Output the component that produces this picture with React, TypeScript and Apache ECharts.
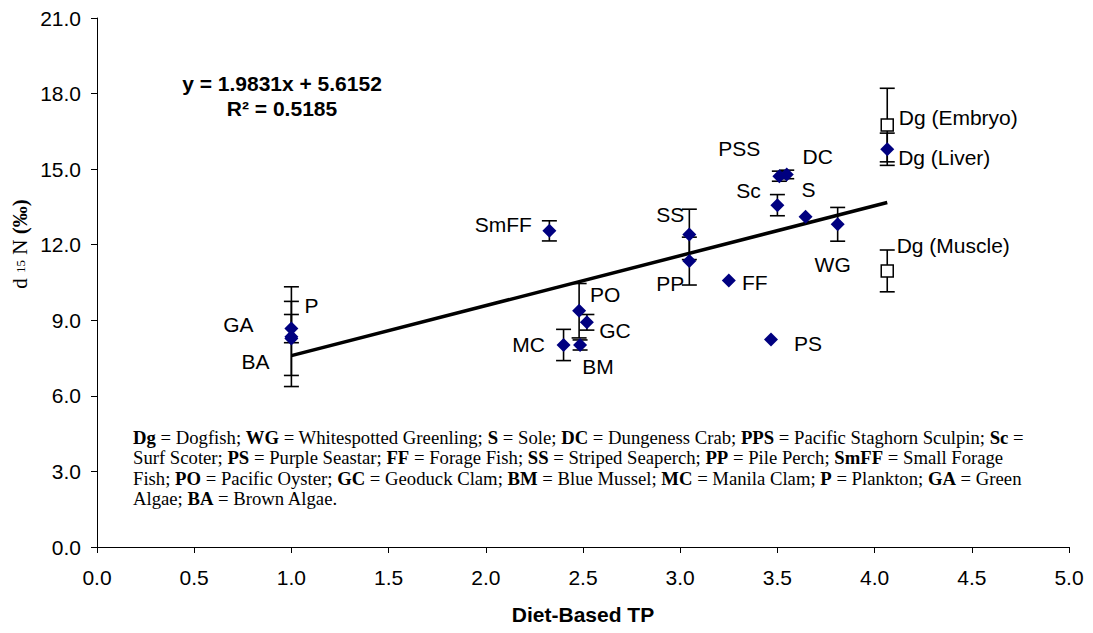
import React, { useEffect, useRef } from "react";
import * as echarts from "echarts";

// Field samples plotted with filled diamonds
const speciesNames = ["GA", "BA", "P", "PO", "GC", "BM", "MC", "SmFF", "SS", "PP", "FF", "PS", "Sc", "PSS", "DC", "S", "WG", "Dg (Liver)"];
const speciesTP = [1.0, 1.0, 1.0, 2.48, 2.52, 2.485, 2.4, 2.327, 3.047, 3.047, 3.25, 3.467, 3.5, 3.51, 3.548, 3.645, 3.81, 4.065];
const speciesD15N = [8.67, 8.28, 8.35, 9.38, 8.92, 8.02, 8.02, 12.55, 12.41, 11.35, 10.58, 8.24, 13.57, 14.72, 14.79, 13.11, 12.81, 15.79];
const speciesSd = [0.56, 1.47, 1.98, 1.08, 0.31, 0.2, 0.62, 0.4, 1.0, 0.95, 0, 0, 0.42, 0.2, 0.17, 0, 0.67, 0.64];

// Dogfish tissues plotted with open squares
const dogfishNames = ["Dg (Embryo)", "Dg (Muscle)"];
const dogfishTP = [4.065, 4.065];
const dogfishD15N = [16.75, 10.96];
const dogfishSd = [1.46, 0.83];

// Linear fit through the diamond samples
const slope = 1.9831;
const intercept = 5.6152;
const rSquared = 0.5185;

// Axis ranges
const xRange = [0, 5, 0.5];
const yRange = [0, 21, 3];

// Key printed inside the plot
const keyLines = [
  "{b|Dg} = Dogfish; {b|WG} = Whitespotted Greenling; {b|S} = Sole; {b|DC} = Dungeness Crab; {b|PPS} = Pacific Staghorn Sculpin; {b|Sc} =",
  "Surf Scoter; {b|PS} = Purple Seastar; {b|FF} = Forage Fish; {b|SS} = Striped Seaperch; {b|PP} = Pile Perch; {b|SmFF} = Small Forage",
  "Fish; {b|PO} = Pacific Oyster; {b|GC} = Geoduck Clam; {b|BM} = Blue Mussel; {b|MC} = Manila Clam; {b|P} = Plankton; {b|GA} = Green",
  "Algae; {b|BA} = Brown Algae.",
];

// Where each point's name sits relative to its marker (px)
const labelOffsets: Record<string, [number, number]> = {
  GA: [-53, -4],
  BA: [-36, 23],
  P: [20, -31],
  PO: [26, -16],
  GC: [28, 8],
  MC: [-35, 0],
  BM: [18, 22],
  SmFF: [-46, -6],
  SS: [-19, -20],
  PP: [-19, 22],
  FF: [26, 2],
  PS: [37, 4],
  Sc: [-29, -15],
  PSS: [-40, -28],
  DC: [31, -18],
  S: [3, -27],
  WG: [-5, 40],
  "Dg (Embryo)": [71, -8],
  "Dg (Liver)": [57, 8],
  "Dg (Muscle)": [66, -25],
};

const SANS = "'Liberation Sans', Arial, sans-serif";
const SERIF = "'Liberation Serif', 'Times New Roman', serif";
const KEY_SIZE = 18.7;
const KEY_LINE = 20.4;

function pointLabel(name: string) {
  const off = labelOffsets[name] || [0, 0];
  return {
    show: true,
    position: "inside" as const,
    formatter: name,
    offset: off,
    color: "#000",
    opacity: 1,
    fontFamily: SANS,
    fontSize: 21,
    align: "center" as const,
    verticalAlign: "middle" as const,
  };
}

export default function App() {
  const ref = useRef<HTMLDivElement>(null);

  useEffect(() => {
    if (!ref.current) return;
    const chart = echarts.init(ref.current, undefined, { renderer: "svg" });

    const speciesData = speciesNames.map((name, i) => ({
      name,
      value: [speciesTP[i], speciesD15N[i]],
      label: pointLabel(name),
    }));
    const dogfishData = dogfishNames.map((name, i) => ({
      name,
      value: [dogfishTP[i], dogfishD15N[i]],
      label: pointLabel(name),
    }));

    const errorData: number[][] = [];
    speciesNames.forEach((_, i) => {
      if (speciesSd[i] > 0) errorData.push([speciesTP[i], speciesD15N[i], speciesSd[i]]);
    });
    dogfishNames.forEach((_, i) => {
      if (dogfishSd[i] > 0) errorData.push([dogfishTP[i], dogfishD15N[i], dogfishSd[i]]);
    });

    const fitX0 = Math.min(...speciesTP);
    const fitX1 = Math.max(...speciesTP);
    const fitData = [
      [fitX0, slope * fitX0 + intercept],
      [fitX1, slope * fitX1 + intercept],
    ];

    const keyText = keyLines.join("\n");

    chart.setOption({
      animation: false,
      backgroundColor: "#fff",
      grid: { left: 97, right: 24, top: 18, bottom: 86 },
      xAxis: {
        type: "value",
        min: xRange[0],
        max: xRange[1],
        interval: xRange[2],
        name: "Diet-Based TP",
        nameLocation: "middle",
        nameGap: 57,
        nameTextStyle: { fontFamily: SANS, fontSize: 21, fontWeight: "bold", color: "#000" },
        axisLine: { onZero: false, lineStyle: { color: "#000", width: 1 } },
        axisTick: { show: true, inside: false, length: 6, lineStyle: { color: "#000" } },
        axisLabel: {
          formatter: (v: number) => v.toFixed(1),
          fontFamily: SANS,
          fontSize: 21,
          color: "#000",
          margin: 20,
        },
        splitLine: { show: false },
      },
      yAxis: {
        type: "value",
        min: yRange[0],
        max: yRange[1],
        interval: yRange[2],
        axisLine: { show: true, onZero: false, lineStyle: { color: "#000", width: 1 } },
        axisTick: { show: true, inside: false, length: 6, lineStyle: { color: "#000" } },
        axisLabel: {
          formatter: (v: number) => v.toFixed(1),
          fontFamily: SANS,
          fontSize: 21,
          color: "#000",
          margin: 16,
        },
        splitLine: { show: false },
      },
      series: [
        {
          type: "custom",
          z: 2,
          data: errorData,
          encode: { x: 0, y: 1 },
          renderItem: (params: any, api: any) => {
            const x = api.value(0);
            const y = api.value(1);
            const sd = api.value(2);
            const top = api.coord([x, y + sd]);
            const bot = api.coord([x, y - sd]);
            const hw = 7.5;
            const st = { stroke: "#000", lineWidth: 1.6 };
            return {
              type: "group",
              children: [
                { type: "line", shape: { x1: top[0], y1: top[1], x2: bot[0], y2: bot[1] }, style: st },
                { type: "line", shape: { x1: top[0] - hw, y1: top[1], x2: top[0] + hw, y2: top[1] }, style: st },
                { type: "line", shape: { x1: bot[0] - hw, y1: bot[1], x2: bot[0] + hw, y2: bot[1] }, style: st },
              ],
            };
          },
        },
        {
          type: "line",
          z: 3,
          data: fitData,
          symbol: "none",
          lineStyle: { color: "#000", width: 3.5 },
          silent: true,
        },
        {
          type: "scatter",
          z: 4,
          data: speciesData,
          symbol: "diamond",
          symbolSize: 14,
          itemStyle: { color: "#000080", opacity: 1 },
          emphasis: { disabled: true },
        },
        {
          type: "scatter",
          z: 4,
          data: dogfishData,
          symbol: "rect",
          symbolSize: 12,
          itemStyle: { color: "#fff", borderColor: "#000", borderWidth: 1.5, opacity: 1 },
          emphasis: { disabled: true },
        },
      ],
      graphic: [
        {
          type: "text",
          x: 282,
          y: 83,
          style: {
            text: `y = ${slope}x + ${intercept}`,
            font: `bold 21px ${SANS}`,
            fill: "#000",
            align: "center",
            verticalAlign: "middle",
          },
        },
        {
          type: "text",
          x: 282,
          y: 108,
          style: {
            text: `R\u00B2 = ${rSquared}`,
            font: `bold 21px ${SANS}`,
            fill: "#000",
            align: "center",
            verticalAlign: "middle",
          },
        },
        {
          type: "text",
          x: 133,
          y: 427,
          style: {
            text: keyText,
            fontFamily: SERIF,
            fontSize: KEY_SIZE,
            lineHeight: KEY_LINE,
            fill: "#000",
            rich: {
              b: { fontFamily: SERIF, fontSize: KEY_SIZE, fontWeight: "bold", lineHeight: KEY_LINE, fill: "#000" },
            },
          },
        },
        {
          type: "text",
          x: 20,
          y: 244,
          rotation: Math.PI / 2,
          style: {
            text: "{n|d }{s|15}{n| N }{b|(\u2030)}",
            align: "center",
            verticalAlign: "middle",
            rich: {
              n: { fontFamily: SERIF, fontSize: 21, fill: "#000" },
              s: { fontFamily: SERIF, fontSize: 13, fill: "#000" },
              b: { fontFamily: SERIF, fontSize: 21, fontWeight: "bold", fill: "#000" },
            },
          },
        },
      ],
    });

    return () => chart.dispose();
  }, []);

  return (
    <div
      ref={ref}
      style={{ position: "fixed", left: 0, top: 0, width: 1093, height: 633, background: "#fff" }}
    />
  );
}
